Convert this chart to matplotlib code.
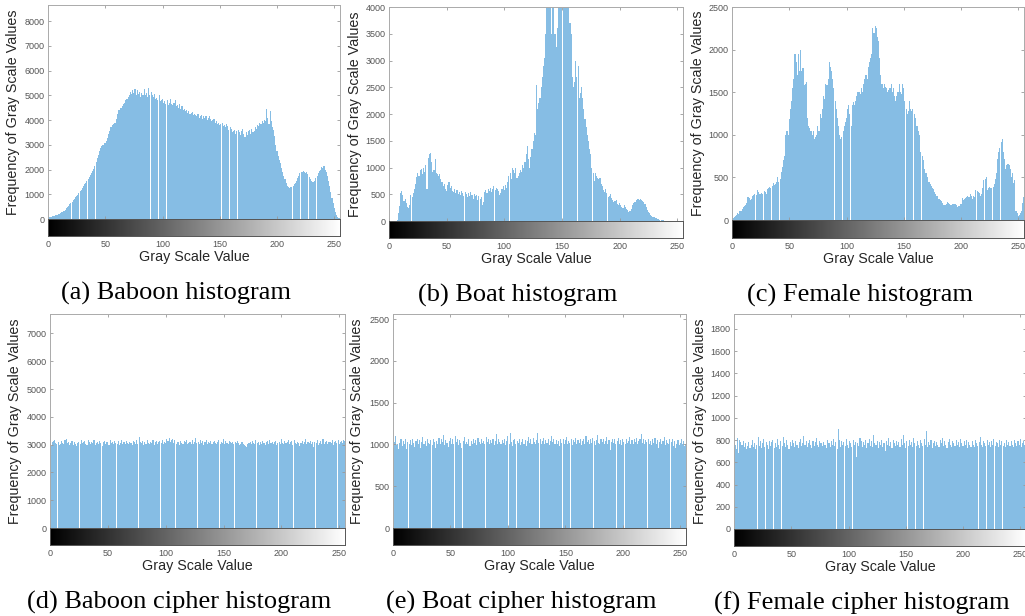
import numpy as np
import matplotlib
matplotlib.use("Agg")
import matplotlib.pyplot as plt

# gray level bins
levels = np.arange(256)

baboon = [
    60, 70, 80, 95, 110, 120, 135, 150, 170, 190, 215, 240, 270, 300, 340, 380,
    430, 480, 530, 590, 650, 700, 760, 820, 880, 930, 990, 1060, 1120, 1180, 1250, 1320,
    1400, 1470, 1550, 1620, 1700, 1780, 1860, 1940, 2020, 2150, 2300, 2450, 2600, 2750, 2850, 2950,
    3000, 3080, 3060, 3150, 3280, 3420, 3550, 3700, 3800, 3820, 3900, 3880, 4050, 4250, 4400, 4500,
    4480, 4560, 4650, 4700, 4800, 4850, 4950, 5000, 5150, 5050, 5200, 5100, 5250, 5000, 5200, 5050,
    5150, 4950, 5100, 5000, 5250, 5000, 5100, 4950, 5300, 5000, 5150, 5000, 4950, 5050, 4850, 4900,
    4800, 5000, 4750, 4800, 4850, 4700, 4750, 4650, 4800, 4600, 4700, 4850, 4650, 4600, 4700, 4800,
    4550, 4600, 4500, 4650, 4450, 4550, 4400, 4450, 4350, 4400, 4300, 4380, 4250, 4300, 4320, 4200,
    4250, 4200, 4180, 4250, 4100, 4150, 4200, 4050, 4150, 4100, 4150, 4000, 4100, 4150, 4050, 3950,
    4000, 4050, 3900, 3950, 3850, 3900, 3800, 3850, 3900, 3750, 3800, 3700, 3850, 3750, 3600, 3700,
    3650, 3500, 3550, 3600, 3450, 3550, 3600, 3500, 3400, 3550, 3650, 3450, 3300, 3500, 3400, 3550,
    3600, 3450, 3650, 3500, 3550, 3700, 3650, 3800, 3750, 3900, 3850, 3950, 3900, 4000, 3950, 4450,
    4100, 3850, 4350, 3950, 3700, 3600, 3350, 3000, 2750, 2550, 2400, 2250, 2050, 1900, 1750, 1600,
    1450, 1350, 1300, 1250, 1280, 1300, 1350, 1400, 1450, 1550, 1650, 1750, 1850, 1900, 1880, 1950,
    1900, 1850, 1900, 1800, 1700, 1600, 1550, 1500, 1480, 1550, 1650, 1750, 1850, 1950, 2000, 2100,
    2050, 2150, 2000, 1900, 1750, 1550, 1350, 1100, 850, 650, 450, 300, 180, 100, 60, 40,
]

boat = [
    0, 0, 0, 0, 0, 0, 0, 20, 150, 280, 520, 560, 480, 380, 420, 330,
    260, 240, 300, 480, 450, 520, 600, 700, 820, 900, 850, 950, 980, 880, 1000, 920,
    1050, 600, 1180, 1250, 1280, 1100, 920, 950, 1150, 900, 880, 850, 870, 780, 720, 650,
    700, 600, 560, 680, 720, 620, 650, 560, 540, 600, 520, 580, 500, 540, 480, 560,
    520, 460, 540, 500, 440, 520, 460, 540, 480, 420, 500, 460, 480, 400, 460, 420,
    440, 300, 360, 550, 580, 520, 600, 560, 620, 540, 600, 650, 580, 620, 600, 560,
    480, 520, 600, 650, 580, 680, 620, 720, 850, 900, 780, 1000, 950, 900, 1000, 800,
    850, 900, 950, 920, 1050, 1000, 1100, 1250, 1400, 1150, 1000, 1200, 1350, 1500, 1650, 1600,
    2550, 2100, 2200, 2300, 2500, 2700, 2900, 3050, 3500, 4400, 4800, 4300, 4600, 3500, 4200, 4500,
    3500, 3250, 3600, 4200, 4600, 4900, 4700, 5000, 4400, 4600, 4300, 4500, 4100, 3700, 3500, 2700,
    2500, 2600, 3000, 2700, 2900, 2300, 2400, 2500, 2300, 2100, 1900, 1750, 1600, 1500, 1350, 1250,
    1000, 900, 750, 900, 850, 800, 780, 800, 700, 650, 580, 550, 600, 520, 450, 470,
    500, 430, 400, 350, 380, 400, 320, 300, 330, 300, 260, 250, 300, 260, 230, 200,
    160, 180, 220, 300, 330, 350, 360, 390, 410, 400, 420, 390, 380, 350, 310, 260,
    200, 170, 150, 120, 100, 80, 70, 60, 50, 40, 30, 25, 20, 15, 10, 8,
    5, 4, 3, 2, 2, 1, 1, 0, 0, 0, 0, 0, 0, 0, 0, 0,
]

female = [
    310, 20, 30, 45, 60, 80, 70, 100, 110, 130, 150, 160, 180, 200, 270, 260,
    240, 250, 280, 290, 300, 290, 350, 330, 300, 310, 320, 300, 340, 330, 310, 360,
    380, 390, 370, 400, 430, 410, 420, 450, 500, 450, 480, 560, 620, 700, 750, 1000,
    1050, 1000, 1180, 1300, 1400, 1550, 1650, 1950, 1850, 1700, 1950, 1750, 2000, 1750, 1780, 1580,
    1600, 1620, 1200, 1100, 1080, 1050, 1000, 1050, 950, 980, 1000, 1100, 1050, 1250, 1200, 1300,
    1450, 1420, 1600, 1580, 1650, 1850, 1800, 1750, 1650, 1550, 1400, 1300, 1200, 1100, 1000, 950,
    980, 1050, 1100, 1150, 1200, 1300, 1350, 1250, 1100, 1350, 1380, 1350, 1400, 1450, 1500, 1500,
    1480, 1550, 1500, 1600, 1650, 1700, 1650, 1800, 1850, 1900, 1950, 2250, 2200, 2280, 2250, 2150,
    2100, 1900, 1700, 1600, 1550, 1600, 1560, 1550, 1500, 1520, 1550, 1600, 1500, 1550, 1450, 1400,
    1450, 1500, 1600, 1500, 1480, 1600, 1550, 1400, 1300, 1250, 1280, 1400, 1300, 1280, 1300, 1250,
    1200, 1100, 1100, 1050, 1000, 800, 750, 700, 600, 550, 550, 500, 450, 420, 400, 380,
    360, 330, 300, 280, 250, 250, 230, 220, 200, 180, 180, 190, 210, 200, 190, 180,
    180, 185, 190, 185, 180, 150, 160, 170, 190, 260, 240, 250, 255, 270, 280, 275,
    300, 280, 250, 280, 270, 350, 340, 330, 320, 280, 300, 380, 470, 480, 500, 350,
    380, 390, 370, 380, 390, 420, 480, 550, 720, 800, 850, 920, 950, 800, 720, 600,
    650, 660, 650, 600, 500, 550, 440, 470, 100, 80, 50, 60, 80, 100, 200, 270,
]

baboon_cipher = [
    3010, 2950, 3080, 3120, 3150, 3060, 3020, 3100, 2990, 3040, 3130, 3070, 3010, 3180, 3220, 3050,
    3110, 3000, 3060, 3140, 2980, 3090, 3030, 2940, 3070, 3100, 3010, 3150, 3060, 3090, 3120, 3040,
    3000, 3170, 3080, 3020, 3110, 3050, 3150, 2990, 3060, 3100, 3030, 3130, 3070, 2960, 3090, 3140,
    3020, 3080, 3110, 3000, 3160, 3050, 3090, 3010, 3130, 3070, 3030, 3120, 2980, 3060, 3150, 3040,
    3090, 3010, 3140, 3070, 3030, 3100, 3060, 3000, 3120, 3080, 3040, 3160, 3020, 3290, 3110, 3050,
    3130, 2990, 3080, 3040, 3150, 3070, 3020, 3110, 3060, 3170, 3000, 3090, 3140, 3030, 3080, 3120,
    3050, 3160, 3010, 3100, 3070, 3200, 3130, 3240, 3090, 3180, 3210, 3060, 3150, 3030, 3110, 3080,
    3000, 3140, 3060, 3020, 3120, 3090, 3170, 3030, 3070, 3110, 3040, 3150, 3010, 3080, 3230, 3050,
    3100, 3020, 3160, 3070, 3130, 3000, 3090, 3180, 3040, 3110, 3060, 3140, 3020, 3080, 3120, 3050,
    3010, 3090, 3150, 3040, 3100, 3070, 3190, 3030, 3120, 3060, 3010, 3140, 3080, 3050, 3110, 3020,
    3090, 3060, 3130, 3070, 3000, 3040, 3080, 3020, 2990, 2950, 2930, 3010, 3060, 3100, 3040, 3130,
    3070, 3010, 3150, 3050, 3090, 2980, 3110, 3040, 3140, 3060, 3000, 3080, 3120, 3030, 3170, 3050,
    3100, 3020, 3080, 3140, 2990, 3060, 3110, 3040, 3200, 3070, 3010, 3130, 3050, 3090, 3160, 3030,
    3080, 3120, 3000, 3150, 3060, 3020, 3110, 3070, 2960, 3050, 3140, 3010, 3090, 3210, 3040, 3100,
    3060, 3130, 3020, 3080, 2930, 3110, 3050, 3160, 3000, 3070, 3120, 3040, 3190, 3010, 3090, 3140,
    3030, 3080, 3110, 3050, 3150, 3000, 3090, 3130, 3060, 3170, 3020, 3100, 3140, 3070, 3180, 3120,
]

boat_cipher = [
    960, 1030, 1100, 990, 1010, 940, 1020, 1060, 980, 1040, 1000, 1070, 950, 1030, 1010, 1050,
    990, 1060, 1020, 970, 1040, 1070, 1000, 1050, 960, 1030, 1090, 1010, 1040, 980, 1060, 1020,
    1000, 1050, 990, 1070, 1030, 960, 1040, 1010, 1080, 1000, 1060, 1030, 1110, 990, 1050, 1020,
    970, 1040, 1080, 1010, 1060, 1000, 1100, 1030, 1070, 990, 1050, 1020, 960, 1040, 1090, 1010,
    1030, 1000, 1060, 980, 1040, 1010, 1070, 1020, 1050, 990, 1080, 1030, 1000, 1060, 1020, 1040,
    1010, 1090, 1030, 1070, 1000, 1050, 1020, 1060, 990, 1040, 1130, 1010, 1070, 1030, 1000, 1050,
    1020, 1060, 990, 1040, 1100, 1010, 1140, 1030, 980, 1050, 1070, 1000, 1040, 1020, 1060, 990,
    1030, 1070, 1010, 1050, 980, 1040, 1090, 1020, 1060, 1000, 1080, 1030, 1010, 1050, 1140, 1020,
    1060, 1000, 1040, 1080, 1010, 1050, 1020, 1070, 990, 1040, 1100, 1030, 1060, 1000, 1050, 1010,
    1040, 980, 1070, 1020, 1060, 1000, 1050, 1090, 1010, 1040, 1020, 1070, 990, 1050, 1030, 1080,
    1000, 1050, 1020, 1060, 990, 1040, 1070, 1010, 1100, 1030, 1050, 1000, 1060, 1020, 1080, 1040,
    990, 1050, 1110, 1020, 1000, 1060, 1030, 1070, 1010, 1040, 1090, 1000, 1050, 930, 1030, 1060,
    1020, 1070, 1000, 1040, 1080, 1010, 1050, 990, 1060, 1030, 1000, 1070, 1020, 1040, 1090, 1010,
    1050, 1000, 1060, 1030, 1080, 1010, 1040, 1070, 1130, 1020, 1060, 1000, 1050, 1030, 1070, 1010,
    1040, 990, 1060, 1020, 1080, 1000, 1050, 960, 1030, 1070, 1010, 1040, 1090, 990, 1050, 1020,
    1000, 1060, 1030, 1070, 980, 1040, 960, 1010, 1050, 990, 1020, 1060, 1000, 1040, 980, 1010,
]

female_cipher = [
    740, 760, 720, 820, 680, 800, 780, 760, 790, 740, 770, 720, 750, 780, 730, 760,
    800, 740, 770, 720, 760, 830, 750, 790, 730, 770, 810, 740, 780, 760, 720, 790,
    750, 780, 800, 730, 770, 740, 810, 760, 720, 790, 750, 830, 770, 740, 800, 760,
    720, 780, 750, 800, 770, 740, 790, 760, 730, 780, 810, 750, 770, 840, 760, 790,
    740, 770, 800, 760, 730, 790, 750, 780, 820, 760, 740, 790, 770, 750, 780, 760,
    760, 730, 800, 770, 740, 790, 760, 810, 750, 780, 720, 900, 800, 740, 790, 760,
    780, 750, 810, 760, 730, 790, 770, 740, 800, 760, 780, 650, 770, 750, 820, 790,
    740, 780, 760, 800, 730, 770, 810, 750, 790, 740, 850, 770, 760, 790, 730, 780,
    760, 800, 740, 770, 700, 790, 760, 820, 750, 780, 730, 800, 770, 750, 790, 760,
    780, 740, 810, 760, 850, 770, 730, 790, 750, 800, 760, 780, 740, 820, 770, 750,
    790, 760, 730, 800, 770, 750, 810, 760, 880, 740, 780, 760, 800, 730, 770, 790,
    750, 780, 760, 740, 800, 770, 820, 750, 790, 760, 730, 780, 810, 760, 740, 790,
    770, 750, 800, 760, 780, 740, 810, 770, 750, 790, 760, 800, 730, 780, 760, 740,
    790, 760, 740, 800, 770, 750, 780, 830, 760, 740, 790, 770, 750, 800, 760, 780,
    740, 790, 760, 810, 750, 780, 770, 740, 800, 760, 790, 750, 770, 740, 800, 760,
    780, 750, 790, 760, 740, 800, 770, 750, 790, 760, 810, 740, 770, 790, 760, 810,
]

captions = ["(a) Baboon histogram", "(b) Boat histogram", "(c) Female histogram",
            "(d) Baboon cipher histogram", "(e) Boat cipher histogram", "(f) Female cipher histogram"]
ytops = [8650, 4000, 2500, 7700, 2560, 1935]
ysteps = [1000, 500, 500, 1000, 500, 200]
ymaxtick = [8000, 4000, 2500, 7000, 2500, 1800]
series = [baboon, boat, female, baboon_cipher, boat_cipher, female_cipher]

W, H = 1025, 616
# pixel boxes: left, right, top, zero line, colorbar bottom
boxes = [
    (48, 340, 5, 219, 236),
    (389, 683, 7, 221, 238),
    (732, 1024, 7, 220, 238),
    (50, 345, 314, 528, 545),
    (393, 686, 314, 528, 545),
    (734, 1026, 314, 529, 546),
]
ylab_x = [13, 355, 698, 15, 357, 700]

bar_color = "#86bde4"
tick_gray = "#555555"
sans = "Liberation Sans"

fig = plt.figure(figsize=(W / 100, H / 100), dpi=100)
grad = np.linspace(0, 1, 256).reshape(1, -1)

for i in range(6):
    l, r, t, z, b = boxes[i]
    ax = fig.add_axes([l / W, 1 - z / H, (r - l) / W, (z - t) / H])
    ax.bar(levels, series[i], width=0.95, color=bar_color, linewidth=0)
    ax.set_xlim(0, 255)
    ax.set_ylim(0, ytops[i])
    ax.set_yticks(np.arange(0, ymaxtick[i] + 1, ysteps[i]))
    ax.set_xticks(np.arange(0, 251, 50))
    ax.tick_params(direction="in", length=2.5, width=0.6, color="#999999",
                   top=True, right=True, labelbottom=False,
                   labelsize=6.5, labelcolor=tick_gray, pad=2.5)
    for tl in ax.get_yticklabels():
        tl.set_family(sans)
    for s in ax.spines.values():
        s.set_color("#aaaaaa")
        s.set_linewidth(0.7)

    cb = fig.add_axes([l / W, 1 - b / H, (r - l) / W, (b - z) / H])
    cb.imshow(grad, cmap="gray", aspect="auto", extent=[0, 255, 0, 1])
    cb.set_xlim(0, 255)
    cb.set_yticks([])
    cb.set_xticks(np.arange(0, 251, 50))
    cb.tick_params(length=0, labelsize=6.5, labelcolor=tick_gray, pad=3)
    for tl in cb.get_xticklabels():
        tl.set_family(sans)
    for s in cb.spines.values():
        s.set_color("#555555")
        s.set_linewidth(0.7)

    fig.text(ylab_x[i] / W, 1 - (t + z) / 2 / H, "Frequency of Gray Scale Values",
             rotation=90, ha="center", va="center", fontsize=10.3,
             family=sans, color="#262626")
    fig.text((l + r) / 2 / W, 1 - (b + 21) / H, "Gray Scale Value",
             ha="center", va="center", fontsize=10.3, family=sans, color="#262626")
    fig.text((l + r) / 2 / W - 0.018, 1 - (b + 57) / H, captions[i],
             ha="center", va="center", fontsize=19, family="Liberation Serif",
             color="black")

fig.savefig("out.png", dpi=100)
